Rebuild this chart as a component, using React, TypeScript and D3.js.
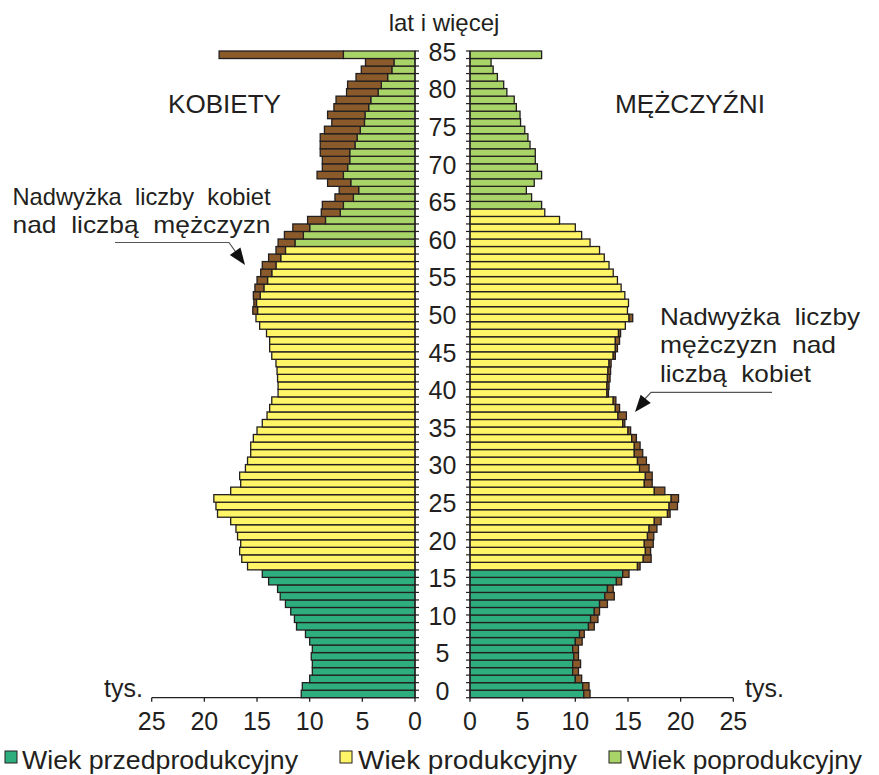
import React from "react";
import * as d3 from "d3";

// ---- data (thousands) ----
const ages: number[] = d3.range(0, 86);
const ageTickLabels: number[] = [0, 5, 10, 15, 20, 25, 30, 35, 40, 45, 50, 55, 60, 65, 70, 75, 80, 85];
const xTickLabels: number[] = [0, 5, 10, 15, 20, 25];

const women: number[] = [
  10.8, 10.7, 10.0, 9.75, 9.75, 9.85, 9.75, 10.0, 10.4, 11.25,
  11.45, 11.8, 12.3, 12.8, 13.05, 13.9, 14.5, 15.9, 16.45, 16.65,
  16.55, 16.85, 17.0, 17.5, 18.75, 18.9, 19.1, 17.5, 16.55, 16.65,
  16.1, 15.9, 15.6, 15.6, 15.35, 15.0, 14.5, 14.05, 13.8, 13.6,
  13.0, 13.0, 13.05, 13.1, 13.2, 13.6, 13.8, 13.8, 14.1, 14.75,
  15.1, 15.4, 15.3, 15.35, 15.2, 15.0, 14.65, 14.5, 13.9, 13.2,
  13.0, 12.4, 11.6, 10.2, 8.9, 8.8, 7.6, 7.2, 8.3, 9.3,
  8.8, 8.8, 9.0, 9.0, 9.0, 8.6, 7.9, 8.3, 7.7, 7.5,
  6.5, 6.4, 5.6, 5.1, 4.7, 18.6,
];

const men: number[] = [
  11.4, 11.3, 10.6, 10.3, 10.5, 10.3, 10.3, 10.65, 10.85, 11.8,
  12.15, 12.3, 13.05, 13.7, 13.6, 14.4, 15.1, 16.15, 17.2, 17.15,
  17.4, 17.45, 17.75, 18.15, 19.0, 19.7, 19.8, 18.5, 17.3, 17.3,
  17.0, 16.75, 16.4, 16.15, 15.8, 15.25, 14.7, 14.85, 14.2, 13.85,
  13.15, 13.2, 13.3, 13.35, 13.4, 13.8, 14.0, 14.2, 14.3, 14.75,
  15.45, 14.95, 15.05, 14.7, 14.35, 14.0, 13.6, 13.2, 12.75, 12.3,
  11.4, 10.6, 10.0, 8.5, 7.1, 6.8, 5.85, 5.35, 6.1, 6.8,
  6.4, 6.2, 6.2, 5.7, 5.5, 5.2, 4.8, 4.75, 4.4, 4.2,
  3.5, 3.2, 2.6, 2.2, 2.0, 6.8,
];

// age group thresholds
const preProductiveMaxAge = 16;
const womenRetireAge = 60;
const menRetireAge = 65;

const legendLabels: string[] = ["Wiek przedprodukcyjny", "Wiek produkcyjny", "Wiek poprodukcyjny"];

// ---- styling ----
const COLORS = {
  pre: "#2eae7e",
  prod: "#fff566",
  post: "#a9d467",
  excess: "#8b5a2b",
  stroke: "#231f20",
  text: "#231f20",
};
const FONT = "'Liberation Sans', Arial, Helvetica, sans-serif";

function groupColor(age: number, retire: number): string {
  if (age <= preProductiveMaxAge) return COLORS.pre;
  if (age >= retire) return COLORS.post;
  return COLORS.prod;
}

function arrowHead(fx: number, fy: number, tx: number, ty: number, len: number, w: number): string {
  const dx = tx - fx;
  const dy = ty - fy;
  const d = Math.sqrt(dx * dx + dy * dy);
  const ux = dx / d;
  const uy = dy / d;
  const bx = tx - ux * len;
  const by = ty - uy * len;
  const px = -uy * (w / 2);
  const py = ux * (w / 2);
  return `M${tx},${ty}L${bx + px},${by + py}L${bx - px},${by - py}Z`;
}

const pre: React.CSSProperties = { whiteSpace: "pre" };

export default function App() {
  const W = 879;
  const H = 775;

  const leftZero = 415;
  const rightZero = 470;
  const pxPer25 = 263.3;

  const xL = d3.scaleLinear().domain([0, 25]).range([leftZero, leftZero - pxPer25]);
  const xR = d3.scaleLinear().domain([0, 25]).range([rightZero, rightZero + pxPer25]);
  const y = d3
    .scaleBand<number>()
    .domain([...ages].reverse())
    .range([51, 697.7])
    .padding(0);
  const bw = y.bandwidth();
  const axisY = 697.7;
  const centerX = 442.5;

  const boundaries = d3.range(0, ages.length + 1).map((i) => 51 + i * bw);

  return (
    <svg
      width={W}
      height={H}
      viewBox={`0 0 ${W} ${H}`}
      style={{ position: "absolute", left: 0, top: 0, background: "#fff" }}
      fontFamily={FONT}
    >
      <rect x={0} y={0} width={W} height={H} fill="#fff" />

      {/* bars */}
      <g strokeWidth={1.3} stroke={COLORS.stroke}>
        {ages.map((age, i) => {
          const w = women[i];
          const m = men[i];
          const common = Math.min(w, m);
          const yy = y(age) as number;
          return (
            <g key={age}>
              <rect
                x={xL(common)}
                y={yy}
                width={xL(0) - xL(common)}
                height={bw}
                fill={groupColor(age, womenRetireAge)}
              />
              {w > m && (
                <rect x={xL(w)} y={yy} width={xL(m) - xL(w)} height={bw} fill={COLORS.excess} />
              )}
              <rect
                x={xR(0)}
                y={yy}
                width={xR(common) - xR(0)}
                height={bw}
                fill={groupColor(age, menRetireAge)}
              />
              {m > w && (
                <rect x={xR(w)} y={yy} width={xR(m) - xR(w)} height={bw} fill={COLORS.excess} />
              )}
            </g>
          );
        })}
      </g>

      {/* vertical axes with ticks */}
      <g stroke={COLORS.stroke} strokeWidth={1.2}>
        <line x1={leftZero} x2={leftZero} y1={51} y2={axisY} />
        <line x1={rightZero} x2={rightZero} y1={51} y2={axisY} />
        {boundaries.map((b, i) => (
          <g key={i}>
            <line x1={leftZero} x2={leftZero + 4} y1={b} y2={b} />
            <line x1={rightZero - 4} x2={rightZero} y1={b} y2={b} />
          </g>
        ))}
      </g>

      {/* horizontal axes */}
      <g stroke={COLORS.stroke} strokeWidth={1.3}>
        <line x1={xL(25)} x2={xL(0)} y1={axisY} y2={axisY} />
        <line x1={xR(0)} x2={xR(25)} y1={axisY} y2={axisY} />
        {xTickLabels.map((t) => (
          <g key={t}>
            <line x1={xL(t)} x2={xL(t)} y1={axisY} y2={axisY + 4} />
            <line x1={xR(t)} x2={xR(t)} y1={axisY} y2={axisY + 4} />
          </g>
        ))}
      </g>
      <g fill={COLORS.text} fontSize={25} textAnchor="middle">
        {xTickLabels.map((t) => (
          <g key={t}>
            <text x={xL(t)} y={730}>{t}</text>
            <text x={xR(t)} y={730}>{t}</text>
          </g>
        ))}
      </g>
      <text x={104} y={697} fontSize={25} fill={COLORS.text}>tys.</text>
      <text x={745} y={697} fontSize={25} fill={COLORS.text}>tys.</text>

      {/* age labels */}
      <g fill={COLORS.text} fontSize={25} textAnchor="middle">
        {ageTickLabels.map((a) => (
          <text key={a} x={centerX} y={(y(a) as number) + bw / 2 + 6}>
            {a}
          </text>
        ))}
      </g>
      <text x={444} y={31} fontSize={24} textAnchor="middle" fill={COLORS.text}>
        lat i więcej
      </text>

      {/* sex titles */}
      <text x={168} y={112.5} fontSize={25} fill={COLORS.text} textLength={113} lengthAdjust="spacingAndGlyphs">
        KOBIETY
      </text>
      <text x={615} y={112.5} fontSize={25} fill={COLORS.text} textLength={150} lengthAdjust="spacingAndGlyphs">
        MĘŻCZYŹNI
      </text>

      {/* annotation left */}
      <g fill={COLORS.text} fontSize={24}>
        <text x={12.5} y={205} textLength={258} lengthAdjust="spacingAndGlyphs" style={pre}>
          {"Nadwyżka  liczby  kobiet"}
        </text>
        <text x={12.5} y={233} textLength={258} lengthAdjust="spacingAndGlyphs" style={pre}>
          {"nad  liczbą  mężczyzn"}
        </text>
      </g>
      <path d="M115,242.5L229,242.5L240,258" fill="none" stroke="#555" strokeWidth={1.2} />
      <path d={arrowHead(229, 242.5, 245, 265, 17, 13)} fill="#111" />

      {/* annotation right */}
      <g fill={COLORS.text} fontSize={24}>
        <text x={660} y={325} textLength={200} lengthAdjust="spacingAndGlyphs" style={pre}>
          {"Nadwyżka  liczby"}
        </text>
        <text x={660} y={353} textLength={176} lengthAdjust="spacingAndGlyphs" style={pre}>
          {"mężczyzn  nad"}
        </text>
        <text x={660} y={381.5} textLength={151} lengthAdjust="spacingAndGlyphs" style={pre}>
          {"liczbą  kobiet"}
        </text>
      </g>
      <path d="M772,392.3L651,392.3L642,402" fill="none" stroke="#555" strokeWidth={1.2} />
      <path d={arrowHead(651, 392.3, 635, 412, 17, 13)} fill="#111" />

      {/* legend */}
      {[
        { label: legendLabels[0], color: COLORS.pre, sx: 5, tx: 22, tw: 276 },
        { label: legendLabels[1], color: COLORS.prod, sx: 340, tx: 358, tw: 219 },
        { label: legendLabels[2], color: COLORS.post, sx: 609, tx: 627, tw: 235 },
      ].map((l) => (
        <g key={l.label}>
          <rect x={l.sx} y={751} width={12} height={12} fill={l.color} stroke={COLORS.stroke} strokeWidth={1} />
          <text
            x={l.tx}
            y={769}
            fontSize={26}
            fill={COLORS.text}
            textLength={l.tw}
            lengthAdjust="spacingAndGlyphs"
          >
            {l.label}
          </text>
        </g>
      ))}
    </svg>
  );
}
